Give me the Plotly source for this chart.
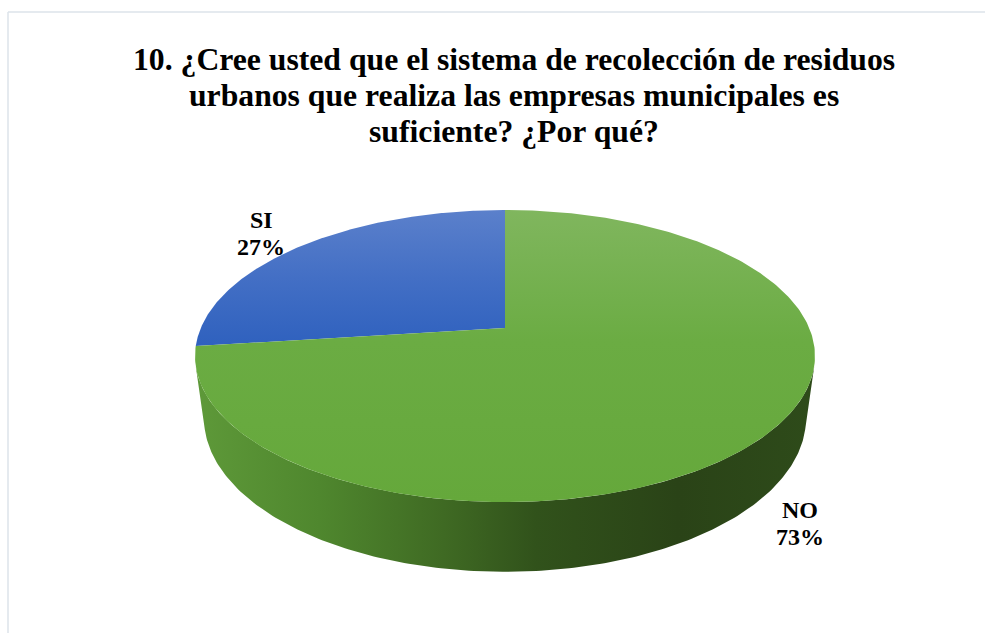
import numpy as np
import plotly.graph_objects as go

# ---- data ----
labels = ["SI", "NO"]
values = [27, 73]
title_lines = [
    "10. ¿Cree usted que el sistema de recolección de residuos",
    "urbanos que realiza las empresas municipales es",
    "suficiente? ¿Por qué?",
]

# ---- geometry / style (layout, not data) ----
W, H = 985, 633
CX, CY = 505, 328          # pie centre on screen
ALPHA = np.radians(30)     # elevation of the view
D = 4.51                   # camera distance (in radii)
FX, FY = 1372, 1269        # projection scale
T = 0.26                   # thickness (in radii)
START = np.pi / 2          # first slice starts at 12 o'clock, counter-clockwise

top_grad = {
    "SI": [[0, "#5b80cb"], [0.5, "#436fc5"], [1, "#2f61be"]],
    "NO": [[0, "#80b65e"], [0.45, "#6bac43"], [1, "#65a83b"]],
}
wall_grad = [[0, "#5e9939"], [0.2, "#4f872e"], [0.4, "#3f6a23"],
             [0.55, "#31521b"], [0.78, "#2a4317"], [1, "#2e4b1a"]]
label_pos = {"SI": (261, 220, 247), "NO": (800, 510, 537)}
title_x = 514
title_y = [59.5, 95.5, 131.5]
TITLE_FONT = dict(family="Liberation Serif", size=31.7, color="#000000")
LABEL_FONT = dict(family="Liberation Serif", size=24, color="#000000")
BORDER = dict(color="#dde3ea", width=1.5)


def proj(theta, h=0.0):
    u, v = np.cos(theta), np.sin(theta)
    s, c = np.sin(ALPHA), np.cos(ALPHA)
    yc = h * c + v * s
    zc = D - h * s + v * c
    return CX + FX * u / zc, CY - FY * yc / zc


fig = go.Figure()

total = sum(values)
angles = []
a = START
for lab, val in zip(labels, values):
    span = 2 * np.pi * val / total
    angles.append((lab, val, a, a + span))
    a += span

# side wall (front visible part)
lim = np.arcsin(-1 / (D * np.cos(ALPHA)))  # negative
th0, th1 = np.pi - lim, 2 * np.pi + lim
for lab, val, a0, a1 in angles:
    for k in (-1, 0, 1):
        b0 = max(a0 + 2 * np.pi * k, th0)
        b1 = min(a1 + 2 * np.pi * k, th1)
        if b1 > b0:
            t = np.linspace(b0, b1, 200)
            xt, yt = proj(t, 0.0)
            xb, yb = proj(t[::-1], -T)
            xs = np.concatenate([xt, xb, xt[:1]])
            ys = np.concatenate([yt, yb, yt[:1]])
            fig.add_trace(go.Scatter(
                x=xs, y=ys, mode="lines", fill="toself",
                line=dict(width=0), fillcolor="#3f6a23",
                fillgradient=dict(type="horizontal", colorscale=wall_grad,
                                  start=float(xs.min()), stop=float(xs.max())),
                hoverinfo="skip", showlegend=False))

# top faces
for lab, val, a0, a1 in angles:
    t = np.linspace(a0, a1, 300)
    xr, yr = proj(t)
    xs = np.concatenate([[CX], xr, [CX]])
    ys = np.concatenate([[CY], yr, [CY]])
    fig.add_trace(go.Scatter(
        x=xs, y=ys, mode="lines", fill="toself",
        line=dict(width=0), fillcolor=top_grad[lab][1][1],
        fillgradient=dict(type="vertical", colorscale=top_grad[lab],
                          start=float(ys.min()), stop=float(ys.max())),
        hoverinfo="skip", showlegend=False, name=lab))

annotations = []
for line, yy in zip(title_lines, title_y):
    annotations.append(dict(
        x=title_x, y=yy, xref="x", yref="y", showarrow=False,
        text=f"<b>{line}</b>", font=TITLE_FONT,
        xanchor="center", yanchor="middle"))
for lab, val in zip(labels, values):
    x, y1, y2 = label_pos[lab]
    for txt, yy in ((lab, y1), (f"{round(100 * val / total)}%", y2)):
        annotations.append(dict(
            x=x, y=yy, xref="x", yref="y", showarrow=False,
            text=f"<b>{txt}</b>", font=LABEL_FONT,
            xanchor="center", yanchor="middle"))

fig.update_layout(
    width=W, height=H,
    margin=dict(l=0, r=0, t=0, b=0),
    paper_bgcolor="white", plot_bgcolor="white",
    xaxis=dict(range=[0, W], visible=False, fixedrange=True),
    yaxis=dict(range=[H, 0], visible=False, fixedrange=True),
    annotations=annotations,
    shapes=[
        dict(type="line", xref="x", yref="y", x0=8, y0=12, x1=W, y1=12,
             line=BORDER, layer="below"),
        dict(type="line", xref="x", yref="y", x0=8, y0=12, x1=8, y1=H,
             line=BORDER, layer="below"),
    ],
    showlegend=False,
)

fig.write_html(
    "out.html",
    config={"displayModeBar": False},
    post_script="document.body.style.margin='0';document.body.style.overflow='hidden';",
)
